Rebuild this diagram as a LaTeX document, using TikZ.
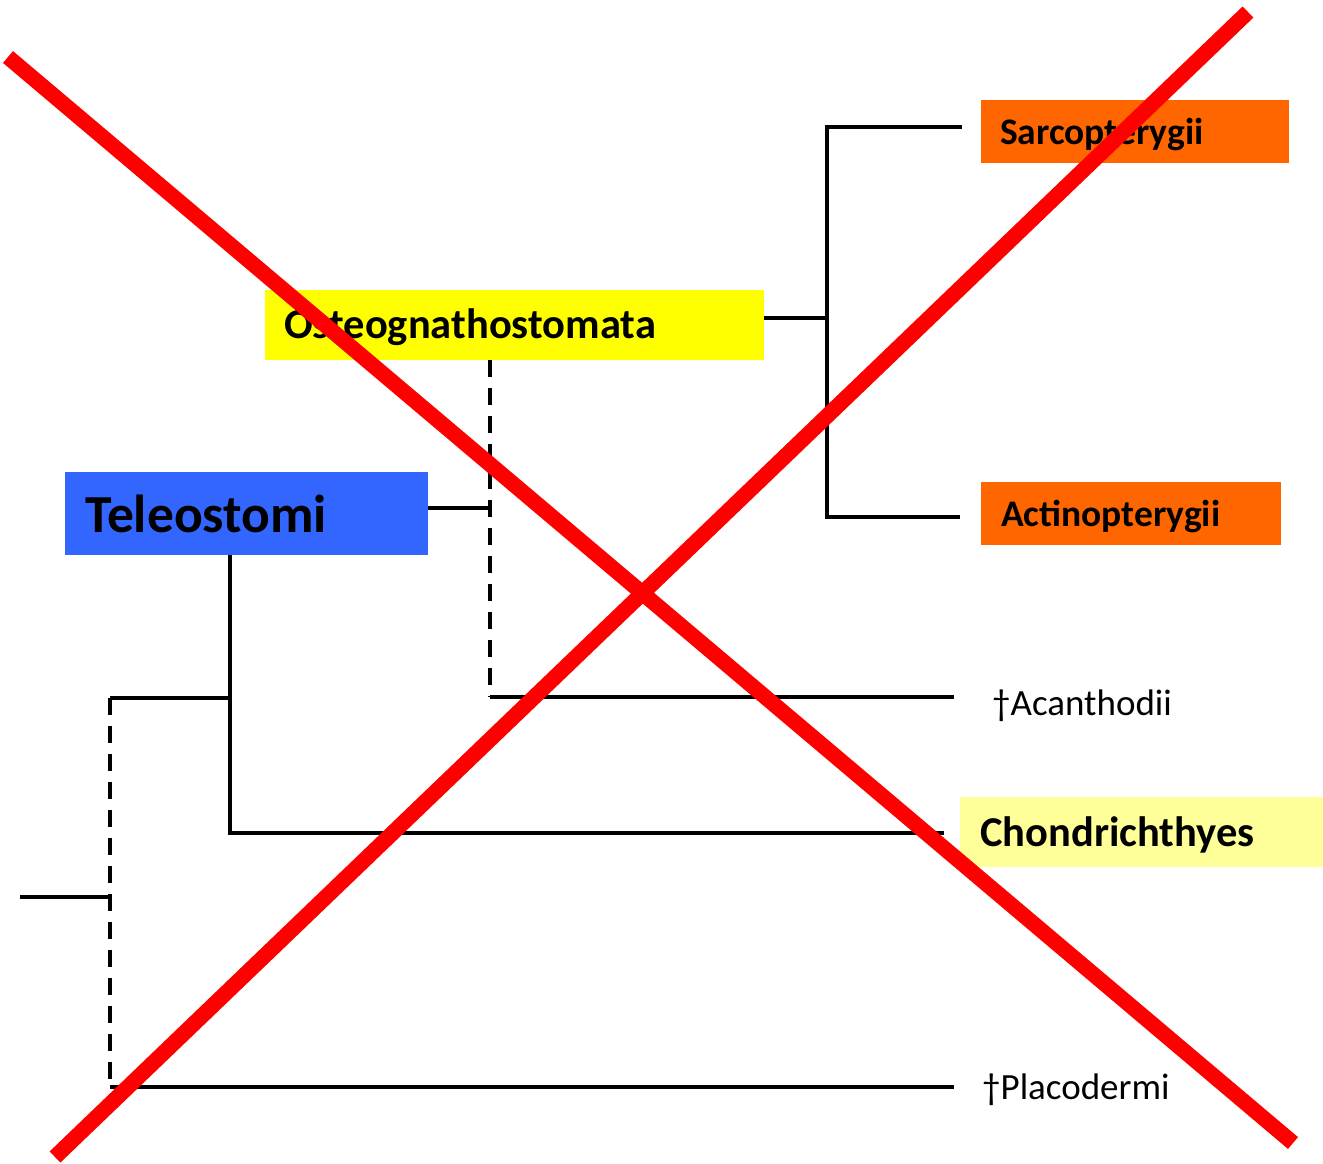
\documentclass[tikz,border=0pt]{standalone}
\usepackage{fontspec}
\setmainfont{Carlito}
\definecolor{orangebox}{HTML}{FF6600}
\definecolor{bluebox}{HTML}{3366FF}
\definecolor{yellowbox}{HTML}{FFFF00}
\definecolor{paleyellow}{HTML}{FFFF99}
\definecolor{crossred}{HTML}{FF0000}
\begin{document}
\begin{tikzpicture}[x=1pt,y=-1pt,
  panel/.style={rectangle, anchor=north west, inner sep=0pt, draw=none},
  title/.style={anchor=base west, inner sep=0pt, font=\bfseries\fontsize{#1}{#1}\selectfont},
  fossil/.style={anchor=base west, inner sep=0pt, font=\fontsize{37}{40}\selectfont},
  branch/.style={line width=3.3pt},
  uncertain/.style={line width=3.3pt, dash pattern=on 17pt off 11pt},
  cross/.style={line width=15.5pt, crossred}]
\useasboundingbox (0,0) rectangle (1323,1163);

% coloured panels behind the taxon names
\node[panel, fill=orangebox, minimum width=308pt, minimum height=63pt] (sarc) at (981,100) {};
\node[panel, fill=orangebox, minimum width=300pt, minimum height=63pt] (actino) at (981,482) {};
\node[panel, fill=yellowbox, minimum width=499pt, minimum height=70pt] (osteo) at (265,290) {};
\node[panel, fill=bluebox, minimum width=363pt, minimum height=83pt] (teleo) at (65,472) {};
\node[panel, fill=paleyellow, minimum width=363pt, minimum height=70pt] (chond) at (960,797) {};

% taxon names
\node[title=37.5] (sarcName) at (1000,144) {Sarcopterygii};
\node[title=37.5] (actinoName) at (1001,526) {Actinopterygii};
\node[title=42.5] (osteoName) at (284,338) {Osteognathostomata};
\node[title=53.5] (teleoName) at (85,532) {Teleostomi};
\node[title=42.5] (chondName) at (980,846) {Chondrichthyes};
\node[fossil] (acan) at (992,715) {†Acanthodii};
\node[fossil] (placo) at (982,1099) {†Placodermi};

% branch points and free ends
\coordinate (sarcEnd) at (962,127);
\coordinate (actEnd) at (960,517);
\coordinate (bonyTop) at (827,127);
\coordinate (bonyBot) at (827,517);
\coordinate (bony) at (827,318);
\coordinate (acanTop) at (490,360);
\coordinate (acanJ) at (490,697);
\coordinate (acanEnd) at (954,697);
\coordinate (teleJ) at (490,508);
\coordinate (teleTop) at (230,555);
\coordinate (chondJ) at (230,833);
\coordinate (chondEnd) at (944,833);
\coordinate (gnathJ) at (230,698);
\coordinate (gnathL) at (110,698);
\coordinate (placoJ) at (110,1087);
\coordinate (placoEnd) at (954,1087);
\coordinate (rootJ) at (110,897);
\coordinate (root) at (20,897);

% tree
\draw[branch] (sarcEnd) -- (bonyTop) -- (bonyBot) -- (actEnd);
\draw[branch] (osteo.east |- bony) -- (bony);
\draw[uncertain] (acanTop) -- (acanJ);
\draw[branch] (acanJ) -- (acanEnd);
\draw[branch] (teleo.east |- teleJ) -- (teleJ);
\draw[branch] (teleTop) -- (chondJ) -- (chondEnd);
\draw[branch] (gnathL) -- (gnathJ);
\draw[uncertain] (gnathL) -- (placoJ);
\draw[branch] (placoJ) -- (placoEnd);
\draw[branch] (root) -- (rootJ);

% red cross over everything
\draw[cross] (8,57) -- (1293,1143);
\draw[cross] (1248,12) -- (55,1157);
\end{tikzpicture}
\end{document}
